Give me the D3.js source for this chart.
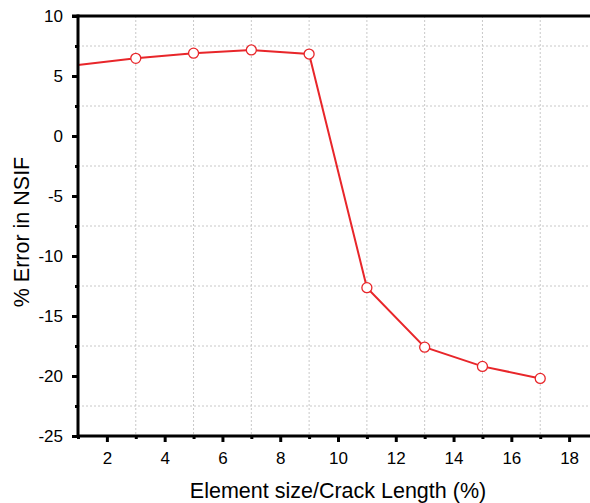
<!DOCTYPE html>
<html>
<head>
<meta charset="utf-8">
<script src="https://cdn.jsdelivr.net/npm/d3@7"></script>
<style>
  body { margin: 0; background: #fff; }
  text { font-family: "Liberation Sans", Arial, sans-serif; fill: #000; }
</style>
</head>
<body>
<svg id="chart" width="590" height="503"></svg>
<script>
const sizes = [1, 3, 5, 7, 9, 11, 13, 15, 17];
const errors = [5.92, 6.47, 6.9, 7.17, 6.83, -12.64, -17.6, -19.2, -20.2];
const xTicks = [2, 4, 6, 8, 10, 12, 14, 16, 18];
const xMinor = [1, 3, 5, 7, 9, 11, 13, 15, 17, 19];
const yTicks = [10, 5, 0, -5, -10, -15, -20, -25];
const yMinor = [7.5, 2.5, -2.5, -7.5, -12.5, -17.5, -22.5];

const svg = d3.select('#chart');
const m = {l: 78, t: 16, b: 436};
const xS = d3.scaleLinear().domain([1, 19]).range([m.l, 598]);
const yS = d3.scaleLinear().domain([-25, 10]).range([m.b, m.t]);
const red = '#e8262a';

// grid at minor positions
const grid = svg.append('g').attr('stroke', '#c8c8c8').attr('stroke-dasharray', '2,2').attr('stroke-width', 1);
grid.selectAll('.vg').data(xMinor.slice(1)).join('line')
  .attr('x1', d => xS(d)).attr('x2', d => xS(d)).attr('y1', m.t).attr('y2', m.b);
grid.selectAll('.hg').data(yMinor).join('line')
  .attr('x1', m.l).attr('x2', 590).attr('y1', d => yS(d)).attr('y2', d => yS(d));

// line + markers
const line = d3.line().x((d, i) => xS(sizes[i])).y(d => yS(d));
svg.append('path').datum(errors)
  .attr('d', line).attr('fill', 'none').attr('stroke', red).attr('stroke-width', 2);
svg.selectAll('.pt').data(errors.slice(1)).join('circle')
  .attr('cx', (d, i) => xS(sizes[i + 1])).attr('cy', d => yS(d))
  .attr('r', 5).attr('fill', '#fff').attr('stroke', red).attr('stroke-width', 1.3);

// axes
const fmt = d => String(d);
const xAx = svg.append('g').attr('transform', `translate(0,${m.b})`)
  .call(d3.axisBottom(xS).tickValues(xTicks).tickSize(6).tickPadding(10).tickFormat(fmt));
const xMin = svg.append('g').attr('transform', `translate(0,${m.b})`)
  .call(d3.axisBottom(xS).tickValues(xMinor).tickSize(3).tickFormat(''));
const yAx = svg.append('g').attr('transform', `translate(${m.l},0)`)
  .call(d3.axisLeft(yS).tickValues(yTicks).tickSize(6).tickPadding(9).tickFormat(fmt));
const yMin = svg.append('g').attr('transform', `translate(${m.l},0)`)
  .call(d3.axisLeft(yS).tickValues(yMinor).tickSize(3).tickFormat(''));

[xAx, xMin, yAx, yMin].forEach(g => {
  g.select('.domain').remove();
  g.selectAll('line').attr('stroke', '#000').attr('stroke-width', 3);
  g.selectAll('text').attr('font-size', 17).attr('font-family', '"Liberation Sans", Arial, sans-serif');
});

svg.append('line').attr('x1', m.l).attr('x2', 590).attr('y1', m.b).attr('y2', m.b)
  .attr('stroke', '#000').attr('stroke-width', 3);
svg.append('line').attr('x1', m.l - 6).attr('x2', 590).attr('y1', m.t).attr('y2', m.t)
  .attr('stroke', '#000').attr('stroke-width', 3);
svg.append('line').attr('x1', m.l).attr('x2', m.l).attr('y1', m.t - 1.5).attr('y2', m.b + 1.5)
  .attr('stroke', '#000').attr('stroke-width', 3);

// titles
svg.append('text').attr('x', 338).attr('y', 498).attr('text-anchor', 'middle')
  .attr('font-size', 21.5).text('Element size/Crack Length (%)');
svg.append('text').attr('transform', 'translate(29,232) rotate(-90)').attr('text-anchor', 'middle')
  .attr('font-size', 21.5).text('% Error in NSIF');
</script>
</body>
</html>
